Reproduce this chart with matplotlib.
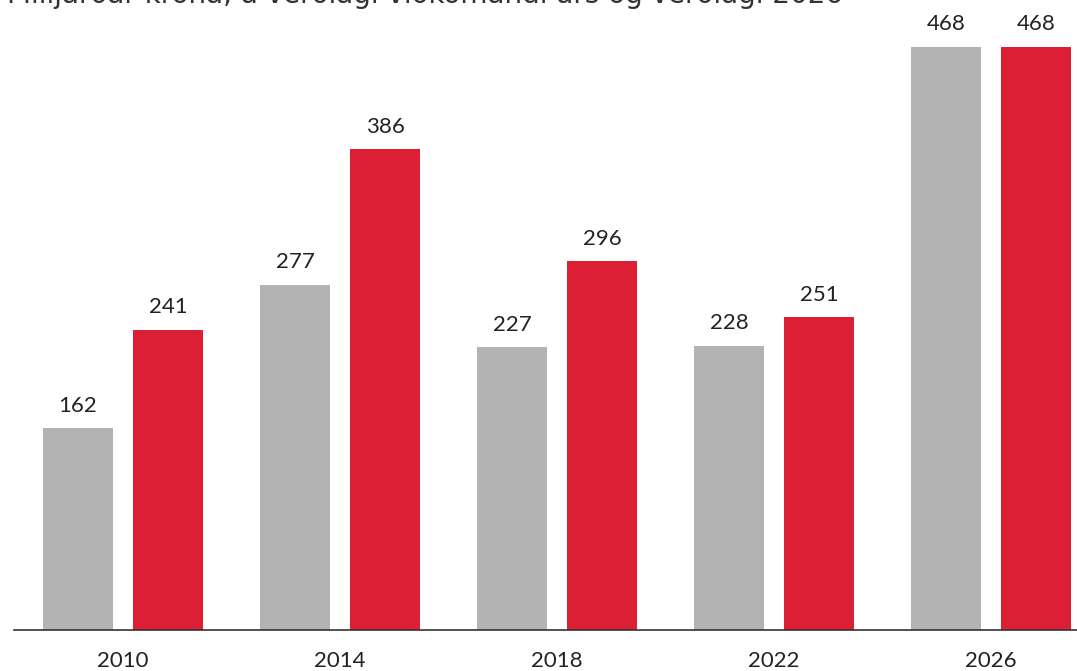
import matplotlib
matplotlib.use("Agg")
import matplotlib.pyplot as plt
import numpy as np

plt.rcParams['font.family'] = ['Lato', 'DejaVu Sans']

years = ['2010', '2014', '2018', '2022', '2026']
nominal = [162, 277, 227, 228, 468]   # verðlag viðkomandi árs
real = [241, 386, 296, 251, 468]      # verðlag 2026
title = 'Milljarðar króna, á verðlagi viðkomandi árs og verðlagi 2026'

gray = '#b3b3b3'
red = '#dc1f35'
txt = '#222222'

fig = plt.figure(figsize=(10.77, 6.71), dpi=100)
ax = fig.add_axes([14 / 1077, 41 / 671, 1 - 14 / 1077, 630 / 671])

x = np.arange(len(years))
w = 0.3226
off = 0.2074
b1 = ax.bar(x - off, nominal, w, color=gray)
b2 = ax.bar(x + off, real, w, color=red)

for bars, vals in ((b1, nominal), (b2, real)):
    for b, v in zip(bars, vals):
        ax.annotate(str(v), (b.get_x() + b.get_width() / 2, v),
                    xytext=(0, 9), textcoords='offset points',
                    ha='center', va='bottom', fontsize=16, color=txt)

ax.set_xlim(-0.502, 4.396)
ax.set_ylim(0, 505.6)
ax.set_xticks(x)
ax.set_xticklabels(years, fontsize=16, color=txt)
ax.tick_params(axis='x', length=0, pad=15)
ax.set_yticks([])
for s in ['top', 'right', 'left']:
    ax.spines[s].set_visible(False)
ax.spines['bottom'].set_color('#333333')
ax.spines['bottom'].set_linewidth(1.2)

# top line of the subtitle is cut by the figure edge, as in the source
fig.text(7 / 1077, 1 - 3 / 671, title, ha='left', va='baseline',
         fontsize=20, color='#333333', family=['DejaVu Sans'])

fig.savefig('out.png', dpi=100)
